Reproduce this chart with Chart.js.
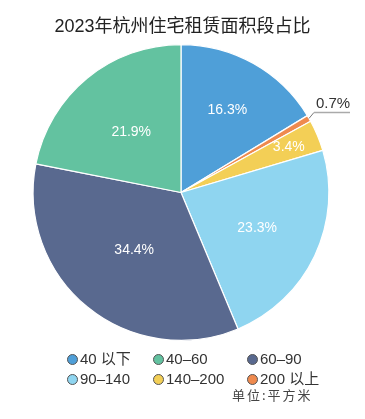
<!DOCTYPE html>
<html><head><meta charset="utf-8">
<script src="https://cdn.jsdelivr.net/npm/chart.js@4.4.1/dist/chart.umd.min.js"></script>
<style>
html,body{margin:0;padding:0;background:#fff;width:365px;height:419px;overflow:hidden;position:relative;font-family:"Liberation Sans","Noto Sans CJK SC",sans-serif;}
#title{position:absolute;left:0;top:11px;width:365px;text-align:center;font-size:18px;color:#222;font-family:"Liberation Sans","Noto Sans CJK SC",sans-serif;}
#wrap{position:absolute;left:0;top:0;width:365px;height:419px;}
.lg{position:absolute;font-size:15px;color:#333;line-height:16px;white-space:nowrap;font-family:"Liberation Sans","Noto Sans CJK SC",sans-serif;}
.dot{position:absolute;width:11px;height:11px;border-radius:50%;border:1px solid #555;box-sizing:border-box;}
#unit{position:absolute;font-size:13px;color:#444;left:232px;top:385px;letter-spacing:2px;font-family:"Noto Sans CJK SC",sans-serif;}
</style></head>
<body>
<div id="wrap"><canvas id="c"></canvas></div>
<div id="title">2023年杭州住宅租赁面积段占比</div>
<div id="legend"></div>
<div id="unit">单位:平方米</div>
<script>
// Data (clockwise from 12 o'clock)
const categories = ["40以下", "200以上", "140-200", "90-140", "60-90", "40-60"];
const shares = [16.3, 0.7, 3.4, 23.3, 34.4, 21.9];
const sliceColors = ["#4f9fd8", "#ef8a4e", "#f3cf56", "#8fd5f0", "#59698f", "#63c2a0"];
// legend order
const legendOrder = ["40以下", "40-60", "60-90", "90-140", "140-200", "200以上"];
const legendText = ["40 以下", "40–60", "60–90", "90–140", "140–200", "200 以上"];

// label radius factors (style)
const labelRadius = [0.64, null, 0.79, 0.57, 0.5, 0.53];

const labelPlugin = {
  id: 'pieLabels',
  afterDatasetsDraw(chart) {
    const ctx = chart.ctx;
    const meta = chart.getDatasetMeta(0);
    meta.data.forEach((arc, i) => {
      const p = arc.getProps(['x','y','startAngle','endAngle','outerRadius'], true);
      const mid = (p.startAngle + p.endAngle) / 2;
      const txt = shares[i].toFixed(1) + '%';
      ctx.save();
      if (labelRadius[i] !== null) {
        const r = p.outerRadius * labelRadius[i];
        ctx.fillStyle = '#fff';
        ctx.font = '14px "Liberation Sans", sans-serif';
        ctx.textAlign = 'center';
        ctx.textBaseline = 'middle';
        ctx.fillText(txt, p.x + Math.cos(mid) * r, p.y + Math.sin(mid) * r);
      } else {
        const x0 = p.x + Math.cos(mid) * p.outerRadius;
        const y0 = p.y + Math.sin(mid) * p.outerRadius;
        const x1 = x0 + 5, y1 = y0 - 6;
        ctx.strokeStyle = '#555';
        ctx.lineWidth = 0.8;
        ctx.beginPath();
        ctx.moveTo(x0, y0); ctx.lineTo(x1, y1);
        ctx.stroke();
        ctx.strokeStyle = '#aaa';
        ctx.lineWidth = 1.5;
        ctx.beginPath();
        ctx.moveTo(x1, y1); ctx.lineTo(x1 + 36, y1);
        ctx.stroke();
        ctx.fillStyle = '#333';
        ctx.font = '15px "Liberation Sans", sans-serif';
        ctx.textAlign = 'left';
        ctx.textBaseline = 'bottom';
        ctx.fillText(txt, x1 + 2, y1 - 1);
      }
      ctx.restore();
    });
  }
};

new Chart(document.getElementById('c'), {
  type: 'pie',
  data: {
    labels: categories,
    datasets: [{ data: shares, backgroundColor: sliceColors, borderColor: '#fff', borderWidth: 1.2 }]
  },
  options: {
    responsive: true,
    maintainAspectRatio: false,
    animation: false,
    layout: { padding: { left: 32, right: 35, top: 44, bottom: 78 } },
    plugins: { legend: { display: false }, tooltip: { enabled: false } }
  },
  plugins: [labelPlugin]
});

// HTML legend built from data
const lg = document.getElementById('legend');
const colX = [67, 153, 247];
const rowY = [351, 371];
legendOrder.forEach((name, k) => {
  const idx = categories.indexOf(name);
  const x = colX[k % 3], y = rowY[Math.floor(k / 3)];
  const d = document.createElement('div');
  d.className = 'dot';
  d.style.left = x + 'px'; d.style.top = (y + 3) + 'px';
  d.style.background = sliceColors[idx];
  lg.appendChild(d);
  const t = document.createElement('div');
  t.className = 'lg';
  t.style.left = (x + 13) + 'px'; t.style.top = y + 'px';
  t.textContent = legendText[k];
  lg.appendChild(t);
});
</script>
</body></html>
